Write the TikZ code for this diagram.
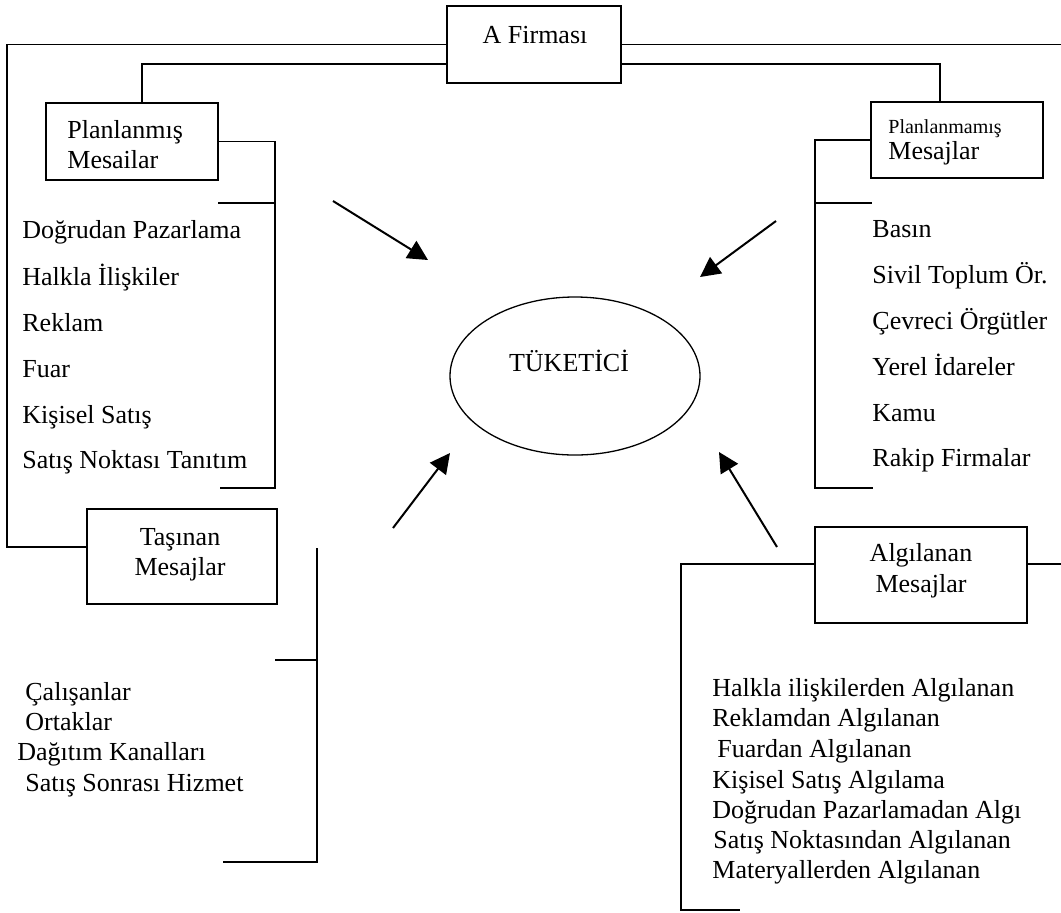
\documentclass[tikz,border=0pt]{standalone}
\usepackage{fontspec}
\setmainfont{Liberation Serif}
\usetikzlibrary{arrows.meta,calc,shapes.geometric}
\begin{document}
\begin{tikzpicture}[x=0.5pt,y=-0.5pt,
  conn/.style={line width=0.65pt},
  boxnode/.style={draw,line width=0.65pt,rectangle,inner sep=0pt},
  item/.style={anchor=base west,inner sep=0pt,font=\fontsize{13}{15}\selectfont},
  boxtext/.style={anchor=base,inner sep=0pt,font=\fontsize{13}{15}\selectfont},
  flow/.style={line width=1pt,-{Triangle[length=10pt,width=10pt]}},
]
\useasboundingbox (0,0) rectangle (1061,912);

% boxes
\node[boxnode,minimum width=87pt,minimum height=38.5pt] (firma) at (534,44.5) {};
\node[boxnode,minimum width=86pt,minimum height=38.5pt] (planned) at (132,141.5) {};
\node[boxnode,minimum width=86pt,minimum height=38pt] (unplanned) at (957,140) {};
\node[boxnode,minimum width=95pt,minimum height=47.5pt] (carried) at (182,556.5) {};
\node[boxnode,minimum width=106pt,minimum height=48pt] (perceived) at (921,575) {};
\node[draw,ellipse,line width=0.65pt,minimum width=125pt,minimum height=79pt,inner sep=0pt] (tuketici) at (575,376) {};

% box texts
\node[boxtext] (firmaT) at (535,43) {A Firması};
\node[item] (plannedA) at (67,138) {Planlanmış};
\node[item] (plannedB) at (67,168) {Mesailar};
\node[item,font=\fontsize{10}{12}\selectfont] (unplA) at (888,133) {Planlanmamış};
\node[item] (unplB) at (888,159) {Mesajlar};
\node[boxtext] (carA) at (180,545) {Taşınan};
\node[boxtext] (carB) at (180,575) {Mesajlar};
\node[boxtext] (perA) at (921,561) {Algılanan};
\node[boxtext] (perB) at (921,592) {Mesajlar};
\node[boxtext] (tukT) at (569,371) {TÜKETİCİ};

% lists
\foreach \t/\y [count=\i] in {Doğrudan Pazarlama/238,Halkla İlişkiler/285,Reklam/331,Fuar/377,Kişisel Satış/423,Satış Noktası Tanıtım/468}
  \node[item] (pl\i) at (22,\y) {\t};
\foreach \t/\y [count=\i] in {Basın/237,Sivil Toplum Ör./283,Çevreci Örgütler/329,Yerel İdareler/375,Kamu/421,Rakip Firmalar/466}
  \node[item] (up\i) at (872,\y) {\t};
\foreach \t/\x/\y [count=\i] in {Çalışanlar/25/700,Ortaklar/25/730,Dağıtım Kanalları/17/760,Satış Sonrası Hizmet/25/791}
  \node[item] (ca\i) at (\x,\y) {\t};
\foreach \t/\x/\y [count=\i] in {Halkla ilişkilerden Algılanan/712/696,Reklamdan Algılanan/712/726,Fuardan Algılanan/717/757,Kişisel Satış Algılama/712/788,Doğrudan Pazarlamadan Algı/712/818,Satış Noktasından Algılanan/713/848,Materyallerden Algılanan/712/878}
  \node[item] (pe\i) at (\x,\y) {\t};

% free ends
\coordinate (rTop) at (1061,44.5);
\coordinate (rMid) at (1061,564);

% connectors
\draw[conn] (firma.west) -- (7,44.5) -- (7,547) -- ($(carried.west)+(0,-9.5)$);
\draw[conn] (firma.east) -- (rTop);
\draw[conn] ($(firma.west)+(0,19.5)$) -| ($(planned.north)+(10,0)$);
\draw[conn] ($(firma.east)+(0,19.5)$) -| ($(unplanned.north)+(-17,0)$);

\draw[conn] (planned.east) -- (275,141.5) -- (275,488) -- (220,488);
\draw[conn] (218,203) -- (275,203);
\draw[conn] (unplanned.west) -- (815,140) -- (815,488) -- (873,488);
\draw[conn] (815,203) -- (872,203);
\draw[conn] (317,548) -- (317,862) -- (223,862);
\draw[conn] (275,660) -- (317,660);
\draw[conn] ($(perceived.west)+(0,-11)$) -- (681,564) -- (681,910) -- (740,910);
\draw[conn] ($(perceived.east)+(0,-11)$) -- (rMid);

% arrows
\coordinate (a1s) at (333,201); \coordinate (a1e) at (428,260);
\coordinate (a2s) at (776,221); \coordinate (a2e) at (700,277);
\coordinate (a3s) at (393,528); \coordinate (a3e) at (450,453);
\coordinate (a4s) at (777,547); \coordinate (a4e) at (719,452);
\draw[flow] (a1s) -- (a1e);
\draw[flow] (a2s) -- (a2e);
\draw[flow] (a3s) -- (a3e);
\draw[flow] (a4s) -- (a4e);
\end{tikzpicture}
\end{document}
